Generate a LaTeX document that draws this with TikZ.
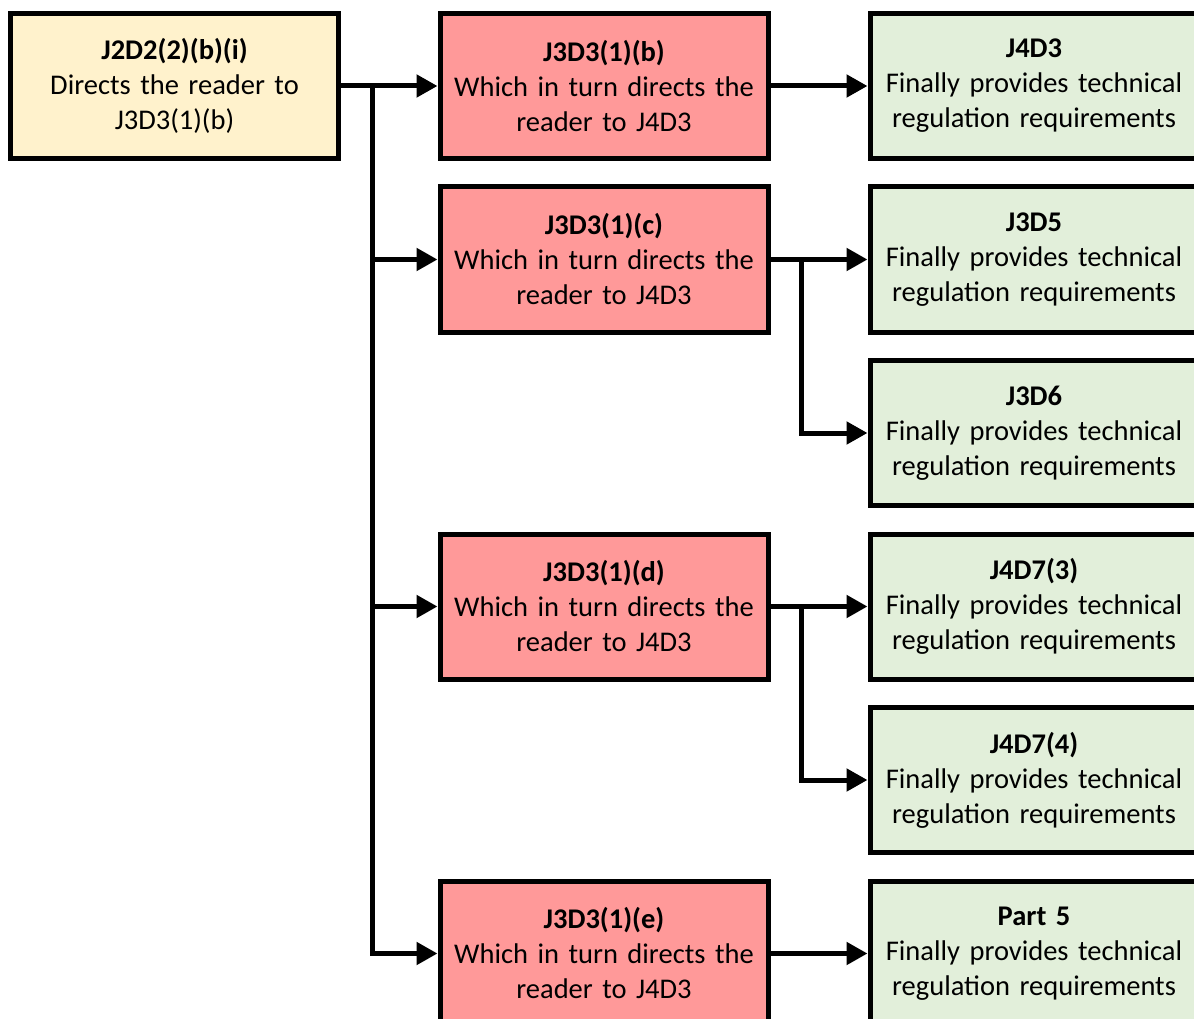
\documentclass[tikz,border=0pt]{standalone}
\usepackage{fontspec}
\setmainfont{Carlito}
\usetikzlibrary{arrows.meta}
\definecolor{yfill}{HTML}{FFF2CC}
\definecolor{rfill}{HTML}{FF9999}
\definecolor{gfill}{HTML}{E2EFDA}
\tikzset{
  box/.style={draw=black, line width=5pt, rectangle, inner sep=0pt,
    minimum width=328pt, minimum height=145pt, text width=322pt, align=center,
    font=\fontsize{28.5}{35}\selectfont},
  ybox/.style={box, fill=yfill},
  rbox/.style={box, fill=rfill},
  gbox/.style={box, fill=gfill},
  conn/.style={line width=5pt, line join=miter, line cap=butt},
  arr/.style={conn, -{Triangle[length=21pt, width=22pt]}}
}
\begin{document}
\begin{tikzpicture}[x=1pt, y=-1pt]
\useasboundingbox (0,0) rectangle (1194,1019);
\clip (0,0) rectangle (1194,1019);
% left
\node[ybox] (y) at (174.5,86) {\textbf{J2D2(2)(b)(i)}\\Directs the reader to\\J3D3(1)(b)};
% middle
\node[rbox] (r1) at (604,86) {\textbf{J3D3(1)(b)}\\Which in turn directs the\\reader to J4D3};
\node[rbox] (r2) at (604,259.5) {\textbf{J3D3(1)(c)}\\Which in turn directs the\\reader to J4D3};
\node[rbox] (r3) at (604,606.5) {\textbf{J3D3(1)(d)}\\Which in turn directs the\\reader to J4D3};
\node[rbox] (r4) at (604,953.5) {\textbf{J3D3(1)(e)}\\Which in turn directs the\\reader to J4D3};
% right
\node[gbox] (g1) at (1034,86) {\textbf{J4D3}\\Finally provides technical\\regulation requirements};
\node[gbox] (g2) at (1034,259.5) {\textbf{J3D5}\\Finally provides technical\\regulation requirements};
\node[gbox] (g3) at (1034,433) {\textbf{J3D6}\\Finally provides technical\\regulation requirements};
\node[gbox] (g4) at (1034,606.5) {\textbf{J4D7(3)}\\Finally provides technical\\regulation requirements};
\node[gbox] (g5) at (1034,780) {\textbf{J4D7(4)}\\Finally provides technical\\regulation requirements};
\node[gbox] (g6) at (1034,953.5) {\textbf{Part 5}\\Finally provides technical\\regulation requirements};
% trunk
\coordinate (t) at (372,86);
\draw[arr] (y.east) -- (r1.west);
\draw[arr] (t) |- (r4.west);
\draw[arr] (t |- r2.west) -- (r2.west);
\draw[arr] (t |- r3.west) -- (r3.west);
% middle to right
\coordinate (b2) at (801,259.5);
\coordinate (b3) at (801,606.5);
\draw[arr] (r1.east) -- (g1.west);
\draw[arr] (r2.east) -- (g2.west);
\draw[arr] (b2) |- (g3.west);
\draw[arr] (r3.east) -- (g4.west);
\draw[arr] (b3) |- (g5.west);
\draw[arr] (r4.east) -- (g6.west);
\end{tikzpicture}
\end{document}
